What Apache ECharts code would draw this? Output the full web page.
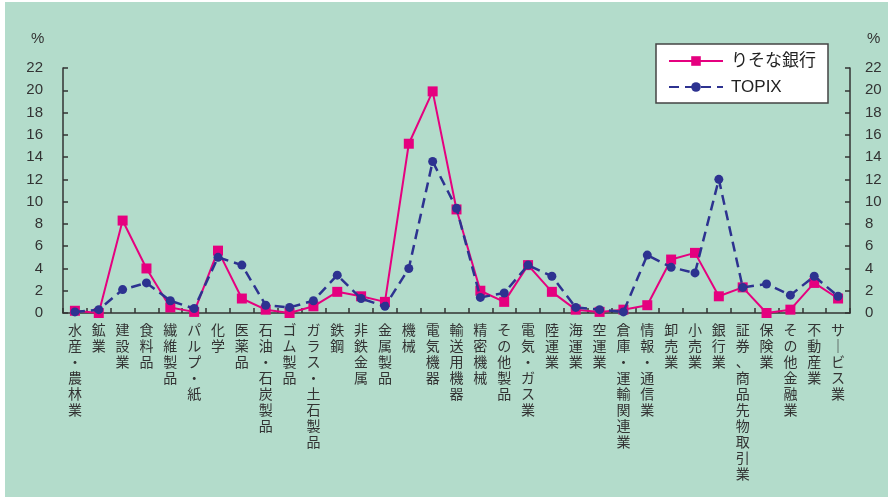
<!DOCTYPE html>
<html>
<head>
<meta charset="utf-8">
<script src="https://cdn.jsdelivr.net/npm/echarts@6/dist/echarts.min.js"></script>
<style>
  html, body { margin: 0; padding: 0; background: #fff; }
  #chart { width: 893px; height: 498px; }
</style>
</head>
<body>
<div id="chart"></div>
<script>
// 業種別構成比 (%)
const categories = [
  '水産・農林業', '鉱業', '建設業', '食料品', '繊維製品', 'パルプ・紙', '化学', '医薬品',
  '石油・石炭製品', 'ゴム製品', 'ガラス・土石製品', '鉄鋼', '非鉄金属', '金属製品', '機械', '電気機器',
  '輸送用機器', '精密機械', 'その他製品', '電気・ガス業', '陸運業', '海運業', '空運業', '倉庫・運輸関連業',
  '情報・通信業', '卸売業', '小売業', '銀行業', '証券、商品先物取引業', '保険業', 'その他金融業', '不動産業', 'サービス業'
];
const resonaValues = [
  0.2, 0.0, 8.3, 4.0, 0.5, 0.1, 5.6, 1.3,
  0.3, 0.0, 0.6, 1.9, 1.5, 1.0, 15.2, 19.9,
  9.3, 2.0, 1.0, 4.3, 1.9, 0.3, 0.1, 0.3,
  0.7, 4.8, 5.4, 1.5, 2.3, 0.0, 0.3, 2.7, 1.3
];
const topixValues = [
  0.1, 0.3, 2.1, 2.7, 1.1, 0.4, 5.0, 4.3,
  0.7, 0.5, 1.1, 3.4, 1.3, 0.6, 4.0, 13.6,
  9.4, 1.4, 1.8, 4.3, 3.3, 0.5, 0.3, 0.1,
  5.2, 4.1, 3.6, 12.0, 2.3, 2.6, 1.6, 3.3, 1.5
];
const yTicks = { min: 0, max: 22, interval: 2 };

const font = '"Liberation Sans", "Noto Sans CJK JP", sans-serif';
const axisColor = '#333';

function verticalLabel(v) {
  return v.replace(/ー/g, '｜').split('').join('\n');
}

function yAxisCfg(pos, margin) {
  return {
    type: 'value',
    position: pos,
    min: yTicks.min,
    max: yTicks.max,
    interval: yTicks.interval,
    axisLine: { show: true, lineStyle: { color: axisColor, width: 1.5 } },
    axisTick: { show: true, inside: true, length: 5, lineStyle: { color: axisColor, width: 1.5 } },
    splitLine: { show: false },
    axisLabel: { color: '#333', fontSize: 15, fontFamily: font, margin: margin }
  };
}

const chart = echarts.init(document.getElementById('chart'));
chart.setOption({
  backgroundColor: 'transparent',
  animation: false,
  graphic: [
    { type: 'rect', z: -10, shape: { x: 5, y: 2, width: 883, height: 495 }, style: { fill: '#b3dccb' } },
    { type: 'text', left: 31, top: 31, style: { text: '%', fontSize: 15, fontFamily: font, fill: '#333' } },
    { type: 'text', left: 867, top: 31, style: { text: '%', fontSize: 15, fontFamily: font, fill: '#333' } }
  ],
  grid: { left: 63, right: 43, top: 68, bottom: 185 },
  legend: {
    left: 656,
    top: 44,
    orient: 'vertical',
    backgroundColor: '#fff',
    borderColor: '#444',
    borderWidth: 1.5,
    padding: [7, 12, 6, 12],
    itemGap: 6,
    itemWidth: 54,
    itemHeight: 12,
    textStyle: { fontSize: 17, fontFamily: font, color: '#222', lineHeight: 20, padding: [0, 0, 0, 3] },
    data: ['りそな銀行', 'TOPIX']
  },
  xAxis: {
    type: 'category',
    data: categories,
    boundaryGap: true,
    axisLine: { lineStyle: { color: axisColor, width: 1.5 } },
    axisTick: { show: true, inside: true, length: 5, interval: 0, lineStyle: { color: axisColor, width: 1.5 } },
    axisLabel: {
      interval: 0,
      formatter: verticalLabel,
      fontSize: 14,
      lineHeight: 16,
      fontFamily: '"Noto Sans CJK JP", sans-serif',
      color: '#333',
      margin: 9,
      verticalAlign: 'top'
    }
  },
  yAxis: [yAxisCfg('left', 20), yAxisCfg('right', 15)],
  series: [
    {
      name: 'りそな銀行',
      type: 'line',
      data: resonaValues,
      symbol: 'rect',
      symbolSize: 10,
      color: '#e5007f',
      lineStyle: { color: '#e5007f', width: 2 },
      itemStyle: { color: '#e5007f' },
      z: 3
    },
    {
      name: 'TOPIX',
      type: 'line',
      data: topixValues,
      symbol: 'circle',
      symbolSize: 9,
      color: '#2d3290',
      lineStyle: { color: '#2d3290', width: 2.5, type: [10, 6] },
      itemStyle: { color: '#2d3290' },
      z: 4
    }
  ]
});
</script>
</body>
</html>
